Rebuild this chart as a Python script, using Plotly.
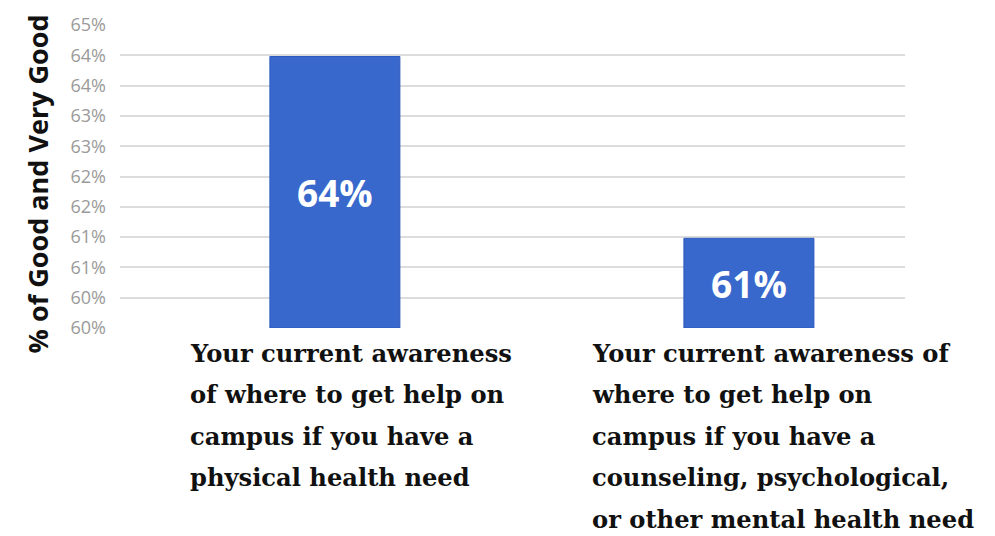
import plotly.graph_objects as go

# Survey items (full text) and the wrapped lines used for their labels
categories = [
    "Your current awareness of where to get help on campus if you have a physical health need",
    "Your current awareness of where to get help on campus if you have a counseling, psychological, or other mental health need",
]
category_lines = [
    ["Your current awareness",
     "of where to get help on",
     "campus if you have a",
     "physical health need"],
    ["Your current awareness of",
     "where to get help on",
     "campus if you have a",
     "counseling, psychological,",
     "or other mental health need"],
]

# Share rating awareness Good / Very Good (percent)
pct_good = [64.48, 61.48]

# Y axis ticks (every half point, shown as whole percents)
tick_values = [60.0, 60.5, 61.0, 61.5, 62.0, 62.5, 63.0, 63.5, 64.0, 64.5, 65.0]
tick_labels = ["60%", "60%", "61%", "61%", "62%", "62%", "63%", "63%", "64%", "64%", "65%"]

y_title = "% of Good and Very Good"

AXIS_MIN, AXIS_MAX = 60, 65
BAR_COLOR = "#3868cc"
LABEL_FONT = "DejaVu Serif"
SANS = "Open Sans"

# Bars rise from the axis floor so the value label sits in the visible middle
fig = go.Figure(
    go.Bar(
        x=categories,
        y=[v - AXIS_MIN for v in pct_good],
        base=AXIS_MIN,
        customdata=pct_good,
        marker=dict(color=BAR_COLOR, line=dict(color="#2d59bd", width=1)),
        texttemplate="%{customdata:.0f}%",
        textposition="inside",
        insidetextanchor="middle",
        textfont=dict(family=SANS, size=37, color="white", weight="bold"),
        hovertemplate="%{customdata:.1f}%<extra></extra>",
    )
)

# Multi-line category labels, left aligned under each bar
label_shifts = [-147, -159]
line_gap = 41.5
first_line = 25  # px below the plot bottom
annotations = []
for cat, lines, shift in zip(categories, category_lines, label_shifts):
    for i, line in enumerate(lines):
        annotations.append(dict(
            x=cat, xref="x", y=0, yref="paper",
            xanchor="left", yanchor="middle",
            xshift=shift, yshift=-(first_line + i * line_gap),
            text=line, showarrow=False,
            font=dict(family=LABEL_FONT, size=24.2, color="#111111", weight="bold"),
        ))

# Rotated y-axis title
annotations.append(dict(
    x=0, xref="paper", y=0.474, yref="paper",
    xanchor="center", yanchor="middle", xshift=-83,
    text=y_title, textangle=-90, showarrow=False,
    font=dict(family=SANS, size=27, color="#111111", weight="bold"),
))

fig.update_layout(
    width=995, height=536,
    margin=dict(l=120, r=90, t=18, b=208),
    paper_bgcolor="white", plot_bgcolor="white",
    bargap=0.686,
    showlegend=False,
    annotations=annotations,
    xaxis=dict(
        range=[-0.519, 1.377],
        showticklabels=False, showgrid=False, zeroline=False, showline=False,
    ),
    yaxis=dict(
        range=[AXIS_MIN, AXIS_MAX],
        tickvals=tick_values, ticktext=tick_labels,
        tickfont=dict(family=SANS, size=18, color="#9a9a9a"),
        ticklabelstandoff=13,
        showgrid=True, gridcolor="#dcdcdc", gridwidth=2,
        zeroline=False, showline=False,
    ),
)

fig.write_html("out.html")
